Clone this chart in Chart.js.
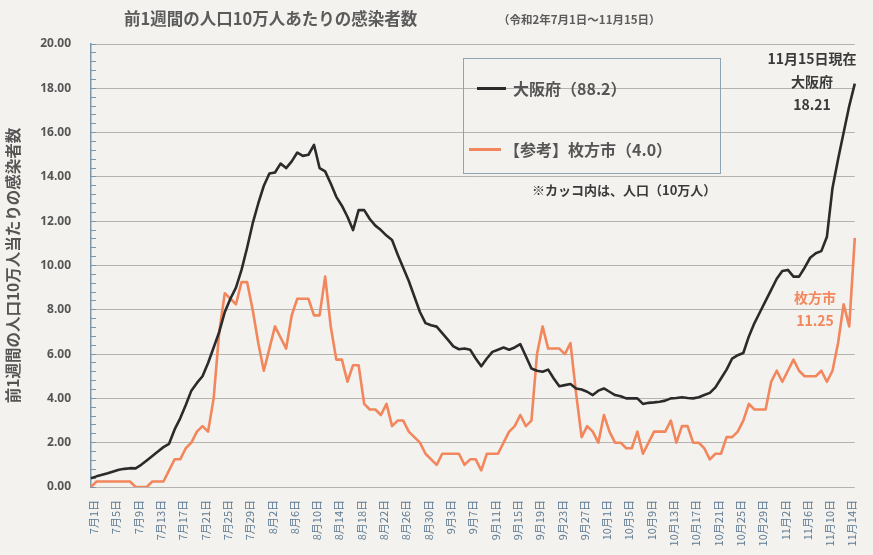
<!DOCTYPE html>
<html lang="ja">
<head>
<meta charset="utf-8">
<script src="https://cdn.jsdelivr.net/npm/chart.js@4/dist/chart.umd.min.js"></script>
<style>
  body { margin: 0; background: #f3f2ee; }
  #wrap { position: relative; width: 873px; height: 555px; font-family: "Noto Sans CJK JP", "Noto Sans", sans-serif; }
  .txt { position: absolute; font-weight: bold; white-space: nowrap; }
  #legend { position: absolute; left: 463px; top: 58px; width: 258px; height: 116px; border: 1.5px solid #8ea3b3; box-sizing: border-box; }
  .lg-line { position: absolute; height: 3px; }
  .lg-text { position: absolute; font-size: 16px; font-weight: bold; color: #555; white-space: nowrap; }
</style>
</head>
<body>
<div id="wrap">
  <canvas id="chart"></canvas>
  <div class="txt" style="left:124px;top:6px;font-size:16.5px;color:#5b5b5b;">前1週間の人口10万人あたりの感染者数</div>
  <div class="txt" style="left:498px;top:11px;font-size:11.5px;color:#5b5b5b;">（令和2年7月1日～11月15日）</div>
  <div id="legend"></div>
  <div class="txt" style="left:532px;top:180px;font-size:13px;color:#3a3a3a;">※カッコ内は、人口（10万人）</div>
  <div class="txt" style="left:752px;top:47px;width:120px;text-align:center;font-size:14px;line-height:23px;color:#3a3a3a;">11月15日現在<br>大阪府<br>18.21</div>
  <div class="txt" style="left:755px;top:286px;width:120px;text-align:center;font-size:14px;line-height:23px;color:#f2865c;">枚方市<br>11.25</div>
</div>
<script>
// --- データ ---
const seriesNames = ['大阪府（88.2）', '【参考】枚方市（4.0）'];
const seriesColors = ['#2b2b2b', '#f2865c'];

// 大阪府 7/1〜11/15
const osaka = [
  0.40, 0.48, 0.55, 0.62, 0.70, 0.78, 0.82, 0.85, 0.84, 1.00,
  1.20, 1.40, 1.60, 1.80, 1.95, 2.60, 3.10, 3.70, 4.35, 4.70,
  5.00, 5.60, 6.30, 7.00, 7.90, 8.50, 9.00, 9.80, 10.80, 11.90,
  12.80, 13.60, 14.15, 14.20, 14.60, 14.40, 14.70, 15.10, 14.95, 15.00,
  15.45, 14.40, 14.25, 13.70, 13.10, 12.70, 12.20, 11.60, 12.50, 12.50,
  12.10, 11.80, 11.60, 11.35, 11.15, 10.50, 9.90, 9.30, 8.60, 7.90,
  7.40, 7.30, 7.24, 6.95, 6.65, 6.35, 6.22, 6.25, 6.20, 5.80,
  5.45, 5.80, 6.10, 6.20, 6.30, 6.20, 6.30, 6.45, 5.90, 5.35,
  5.25, 5.20, 5.30, 4.90, 4.55, 4.60, 4.65, 4.45, 4.40, 4.30,
  4.15, 4.35, 4.45, 4.30, 4.15, 4.10, 4.00, 4.00, 4.00, 3.75,
  3.80, 3.82, 3.85, 3.90, 4.00, 4.02, 4.05, 4.02, 4.00, 4.05,
  4.15, 4.25, 4.50, 4.90, 5.30, 5.80, 5.95, 6.05, 6.80, 7.40,
  7.90, 8.40, 8.90, 9.40, 9.75, 9.80, 9.50, 9.50, 9.90, 10.35,
  10.55, 10.65, 11.30, 13.50, 14.80, 16.00, 17.20, 18.21
];

// 枚方市 7/1〜11/15
const hirakata = [
  0, 0.25, 0.25, 0.25, 0.25, 0.25, 0.25, 0.25, 0, 0, 0, 0.25, 0.25, 0.25,
  0.75, 1.25, 1.25, 1.75, 2.0, 2.5, 2.75, 2.5, 4.0, 7.0,
  8.75, 8.5, 8.25, 9.25, 9.25, 8.0, 6.5, 5.25, 6.25, 7.25,
  6.75, 6.25, 7.75, 8.5, 8.5, 8.5, 7.75, 7.75, 9.5, 7.25,
  5.75, 5.75, 4.75, 5.5, 5.5, 3.75, 3.5, 3.5, 3.25, 3.75,
  2.75, 3.0, 3.0, 2.5, 2.25, 2.0, 1.5, 1.25, 1.0, 1.5,
  1.5, 1.5, 1.5, 1.0, 1.25, 1.25, 0.75, 1.5, 1.5, 1.5,
  2.0, 2.5, 2.75, 3.25, 2.75, 3.0, 6.0, 7.25, 6.25, 6.25,
  6.25, 6.0, 6.5, 4.25, 2.25, 2.75, 2.5, 2.0, 3.25, 2.5,
  2.0, 2.0, 1.75, 1.75, 2.5, 1.5, 2.0, 2.5, 2.5, 2.5,
  3.0, 2.0, 2.75, 2.75, 2.0, 2.0, 1.75, 1.25, 1.5, 1.5,
  2.25, 2.25, 2.5, 3.0, 3.75, 3.5, 3.5, 3.5, 4.75, 5.25,
  4.75, 5.25, 5.75, 5.25, 5.0, 5.0, 5.0, 5.25, 4.75, 5.25,
  6.5, 8.25, 7.25, 11.25
];

// 日付ラベル（7月1日〜11月15日）
const labels = [];
for (let d = new Date(2020, 6, 1); d <= new Date(2020, 10, 15); d.setDate(d.getDate() + 1)) {
  labels.push(`${d.getMonth() + 1}月${d.getDate()}日`);
}
const labelEvery = 4;

// --- 凡例（枠付き） ---
const legend = document.getElementById('legend');
const legendRows = [
  { top: 29, lineLeft: 13, lineW: 29, textLeft: 49 },
  { top: 90, lineLeft: 5, lineW: 32, textLeft: 40 }
];
legendRows.forEach((r, i) => {
  const ln = document.createElement('div');
  ln.className = 'lg-line';
  ln.style.cssText = `left:${r.lineLeft}px;top:${r.top - 1}px;width:${r.lineW}px;background:${seriesColors[i]};`;
  const tx = document.createElement('div');
  tx.className = 'lg-text';
  tx.style.cssText = `left:${r.textLeft}px;top:${r.top - 12}px;`;
  tx.textContent = seriesNames[i];
  legend.appendChild(ln);
  legend.appendChild(tx);
});

// --- グラフ ---
const canvas = document.getElementById('chart');
canvas.width = 873;
canvas.height = 555;

new Chart(canvas, {
  type: 'line',
  data: {
    labels,
    datasets: [
      { label: seriesNames[0], data: osaka, borderColor: seriesColors[0], borderWidth: 2.6 },
      { label: seriesNames[1], data: hirakata, borderColor: seriesColors[1], borderWidth: 2.6 }
    ]
  },
  options: {
    responsive: false,
    animation: false,
    layout: { padding: { top: 44, right: 11, bottom: 0, left: 0 } },
    elements: { point: { radius: 0 }, line: { tension: 0, borderJoinStyle: 'round' } },
    plugins: { legend: { display: false }, tooltip: { enabled: false } },
    scales: {
      x: {
        offset: false,
        grid: { display: false },
        border: { display: false },
        ticks: {
          autoSkip: false,
          maxRotation: 90,
          minRotation: 90,
          padding: 5,
          labelOffset: 3,
          color: '#5e7a92',
          font: { family: '"Noto Sans CJK JP", sans-serif', size: 11 },
          callback: (v, i) => (i % labelEvery === 0 ? labels[i] : '')
        },
        afterFit: s => { s.height = 68; }
      },
      y: {
        weight: 1,
        min: 0,
        max: 20,
        ticks: {
          stepSize: 2,
          padding: 20,
          color: '#555',
          font: { family: '"Noto Sans", sans-serif', size: 12, weight: 'bold' },
          callback: v => v.toFixed(2)
        },
        grid: { color: '#b4b3af', lineWidth: 1, drawTicks: false },
        border: { display: true, color: '#7d97aa', width: 1.5 },
        title: {
          display: true,
          text: '前1週間の人口10万人当たりの感染者数',
          color: '#555',
          padding: { top: 4, bottom: 0 },
          font: { family: '"Noto Sans CJK JP", sans-serif', size: 15.5, weight: 'bold' }
        },
        afterFit: s => { s.width = 91; }
      },
      yMinor: {
        position: 'left',
        weight: 0,
        min: 0,
        max: 20,
        ticks: { display: false, stepSize: 0.4 },
        grid: { drawOnChartArea: false, tickLength: -5, color: '#7d97aa', lineWidth: 1 },
        border: { display: false },
        afterFit: s => { s.width = 0; }
      }
    }
  }
});
</script>
</body>
</html>
